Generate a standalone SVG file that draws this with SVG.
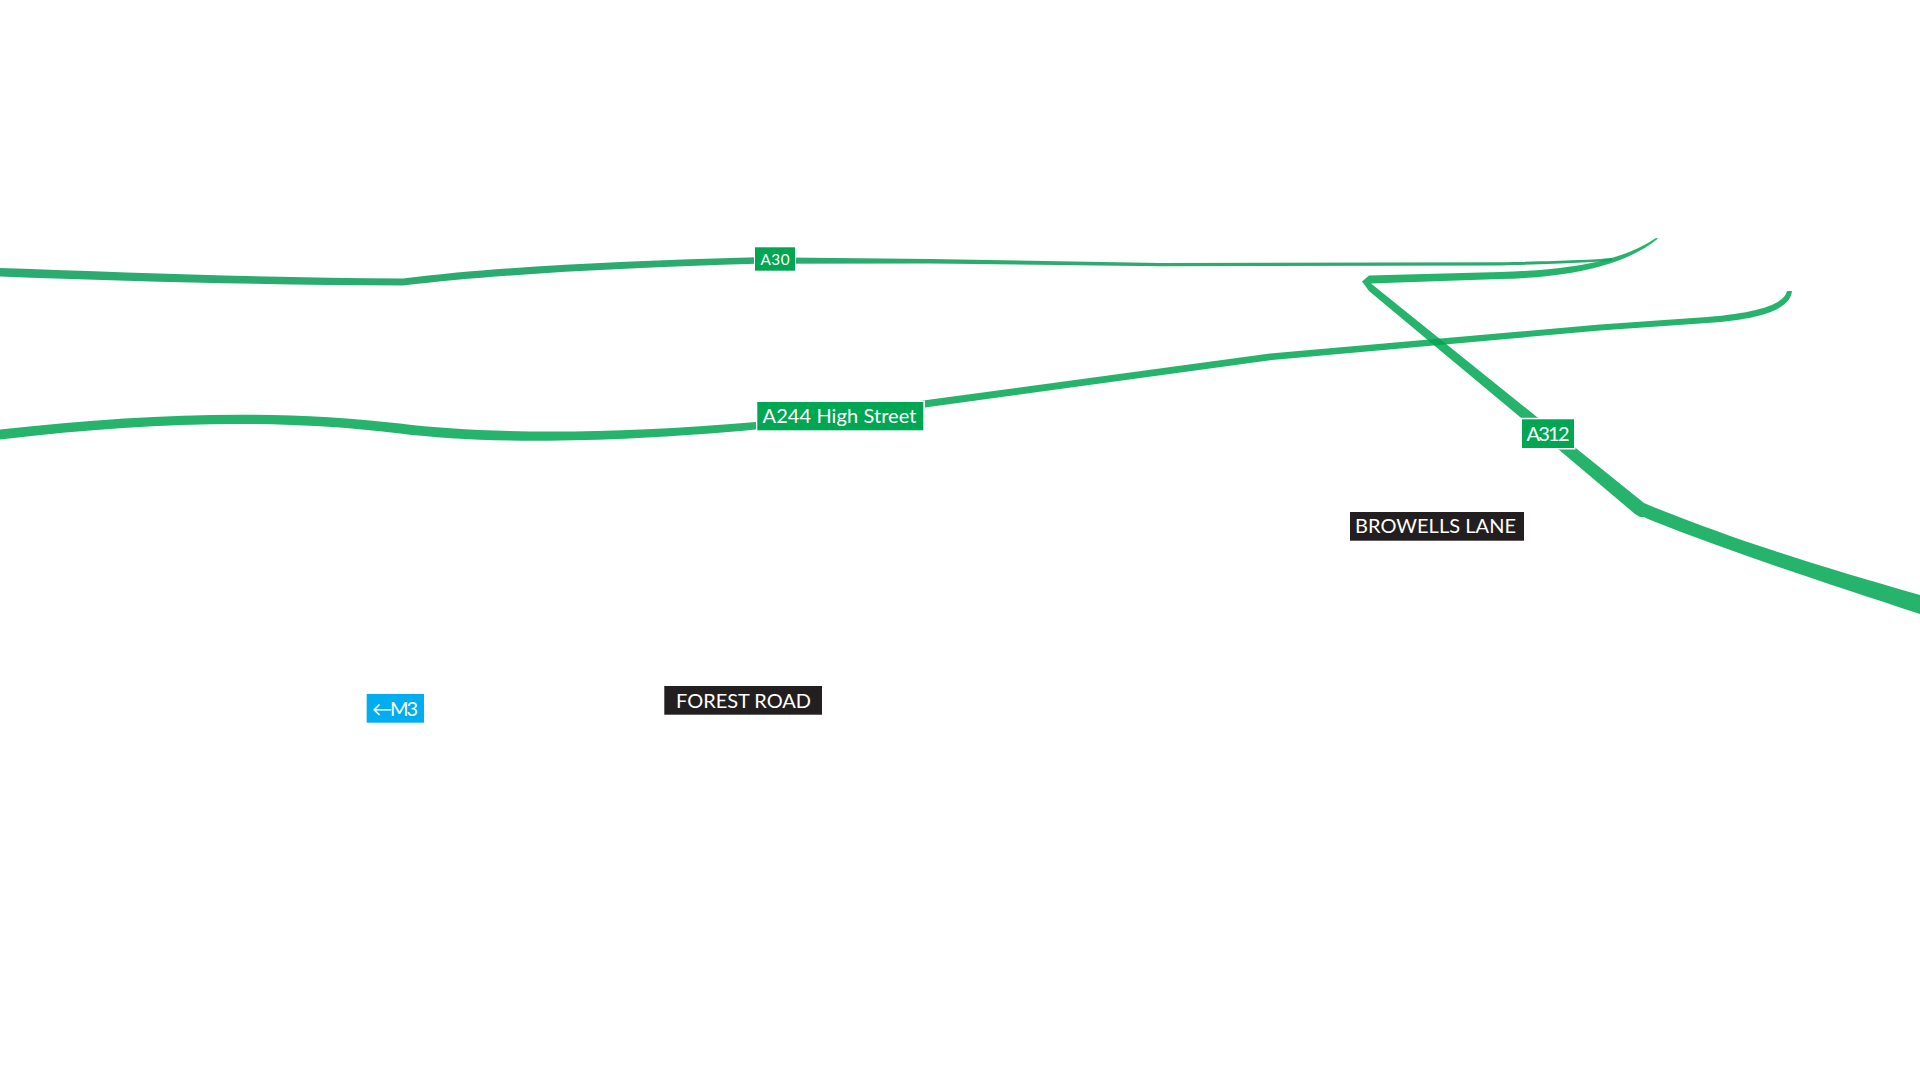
<svg xmlns="http://www.w3.org/2000/svg" width="1920" height="1080" viewBox="0 0 1920 1080">
<style>
.road{fill:#00a651;fill-opacity:.85;stroke:none}
.road2{fill:#0b9f5a;fill-opacity:.87;stroke:none}
.lb{font-family:Lato,"Open Sans",sans-serif;fill:#fff;font-size:20px}
.halo{fill:#fff}
.green{fill:#00a651}
.black{fill:#231f20}
</style>
<rect width="1920" height="1080" fill="#fff"/>
<g id="connectors">
<path id="a30" class="road2" d="M0 268C130 272.500 270 278 403 278.500C500 266.500 620 261 756 257.200L930 259L1160 263L1500 262.300C1560 261 1590 260 1612 258L1612 260.500C1590 262.500 1560 264 1500 265.500L1160 266.300L930 263.500L756 263.800C620 268 500 274 403 285.500C270 285 130 281.500 0 276.500Z"/>
<path id="a312" class="road" d="M1658 238.500C1645 249 1630 257 1610 263.500C1580 273 1545 278 1500 279L1371 283.500L1537 417L1577 449L1644 503L1651 506C1730 538 1820 567 1920 595V614C1820 581 1730 552 1648 519L1644 517L1640 517L1635 514L1520 417L1369 291L1362 281.500L1369 275.500L1500 272C1545 270.500 1580 267 1610 258.500C1628 253.500 1643 246.500 1656 238Z"/>
<path id="a244" class="road" d="M0 429.500C150 412.500 280 409.500 400 423.500C480 433.500 600 435.500 756 422L925 400.300L1270 353.500L1600 324.500L1700 317.500C1755 313.500 1784 305 1787 291L1792 291C1790 310 1760 320 1700 323.500L1600 330.500L1272 360L925 407.500L756 429.500C600 444 480 443.500 400 433.500C280 418.500 150 421.500 0 439.500Z"/>
</g>
<g id="n-a30"><rect class="halo" x="754" y="246" width="42" height="26"/><rect class="green" x="755" y="247.300" width="40" height="23.400"/><text class="lb" x="760.500" y="265" style="font-size:15.300px" textLength="29" lengthAdjust="spacing">A30</text></g>
<g id="n-a244"><rect class="halo" x="756" y="400.500" width="169" height="31"/><rect class="green" x="757.300" y="402" width="166" height="28.300"/><text class="lb" x="762.500" y="423" textLength="154" lengthAdjust="spacing">A244 High Street</text></g>
<g id="n-a312"><rect class="halo" x="1520.500" y="417.800" width="55" height="31.700"/><rect class="green" x="1522" y="419.300" width="52" height="28.700"/><text class="lb" x="1526.500" y="440.500" textLength="43" lengthAdjust="spacing">A312</text></g>
<g id="n-browells"><rect class="black" x="1350" y="512" width="174" height="28.700"/><text class="lb" x="1355" y="533" textLength="161" lengthAdjust="spacing">BROWELLS LANE</text></g>
<g id="n-forest"><rect class="black" x="664.300" y="686" width="157.700" height="28.700"/><text class="lb" x="676" y="707.500" textLength="135" lengthAdjust="spacing">FOREST ROAD</text></g>
<g id="n-m3"><rect x="366.700" y="694" width="57.300" height="28.700" fill="#00aeef"/><text class="lb" x="372" y="715.500" textLength="46" lengthAdjust="spacing">←M3</text></g>
</svg>
